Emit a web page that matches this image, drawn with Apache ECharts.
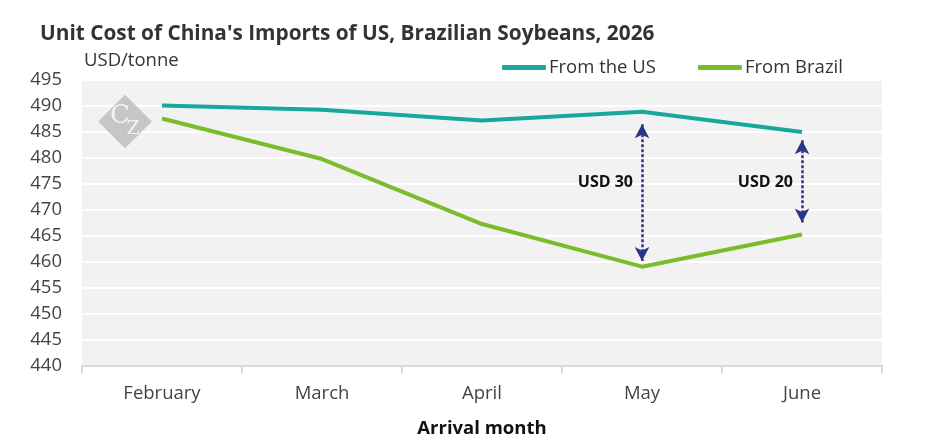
<!DOCTYPE html>
<html><head><meta charset="utf-8">
<script src="https://cdn.jsdelivr.net/npm/echarts@6/dist/echarts.min.js"></script>
<style>html,body{margin:0;padding:0;background:#fff}#c{width:945px;height:443px}</style>
</head><body><div id="c"></div>
<script>
var months = ['February','March','April','May','June'];
var fromUS = [490.1, 489.3, 487.2, 488.9, 485.0];
var fromBrazil = [487.6, 479.8, 467.3, 459.1, 465.3];
var yTicks = {min: 440, max: 495, interval: 5};
var gapArrows = [
  {month: 'May', top: 486.5, bottom: 460.2, label: 'USD 30'},
  {month: 'June', top: 483.4, bottom: 467.6, label: 'USD 20'}
];
var labelLevel = 475.3;

var font = '"Open Sans", "Noto Sans", sans-serif';
var chart = echarts.init(document.getElementById('c'));
chart.setOption({
  animation: false,
  textStyle: {fontFamily: font},
  title: {
    text: "Unit Cost of China's Imports of US, Brazilian Soybeans, 2026",
    left: 35, top: 19,
    textStyle: {fontFamily: font, fontSize: 20.8, fontWeight: 'bold', color: '#333'}
  },
  legend: {
    top: 53, left: 497,
    itemWidth: 44, itemHeight: 5, itemGap: 42,
    icon: 'roundRect',
    textStyle: {fontFamily: font, fontSize: 18.5, color: '#333', padding: [0,0,0,-2]},
    data: ['From the US', 'From Brazil']
  },
  grid: {left: 82, right: 63, top: 80, bottom: 76, show: true, backgroundColor: '#f2f2f2', borderWidth: 0},
  xAxis: {
    type: 'category', data: months, boundaryGap: true,
    name: 'Arrival month', nameLocation: 'middle', nameGap: 53,
    nameTextStyle: {fontFamily: font, fontSize: 18.5, fontWeight: 'bold', color: '#111'},
    axisLine: {lineStyle: {color: '#d9d9d9', width: 2}},
    axisTick: {show: true, length: 7, lineStyle: {color: '#d9d9d9', width: 2}},
    axisLabel: {fontFamily: font, fontSize: 18.5, color: '#444', margin: 18},
    splitLine: {show: false}
  },
  yAxis: {
    type: 'value', min: yTicks.min, max: yTicks.max, interval: yTicks.interval,
    axisLine: {show: false}, axisTick: {show: false},
    axisLabel: {fontFamily: font, fontSize: 18.5, color: '#444', margin: 20},
    splitLine: {lineStyle: {color: '#ffffff', width: 2}}
  },
  graphic: [
    {type: 'text', left: 84, top: 51, style: {text: 'USD/tonne', font: '18.5px ' + font, fill: '#333'}},
    {type: 'rect', shape: {x: -19, y: -19, width: 38, height: 38}, x: 125, y: 121.5, rotation: Math.PI/4,
     style: {fill: '#c6c6c6'}, z: 1},
    {type: 'text', x: 120, y: 116, style: {text: 'C', font: '26px "DejaVu Serif", serif', fill: '#f2f2f2', align: 'center', verticalAlign: 'middle'}, z: 2},
    {type: 'text', x: 133, y: 129, style: {text: 'Z', font: '19px "DejaVu Serif", serif', fill: '#f2f2f2', align: 'center', verticalAlign: 'middle'}, z: 2}
  ],
  series: [
    {
      name: 'From the US', type: 'line', data: fromUS, symbol: 'none',
      lineStyle: {color: '#17a89b', width: 4}, itemStyle: {color: '#17a89b'}, z: 3
    },
    {
      name: 'From Brazil', type: 'line', data: fromBrazil, symbol: 'none',
      lineStyle: {color: '#7cbb2a', width: 4}, itemStyle: {color: '#7cbb2a'}, z: 3,
      markLine: {
        silent: true, symbol: ['arrow', 'arrow'], symbolSize: [11, 14],
        lineStyle: {color: '#27358a', type: [3, 2], width: 2.5},
        label: {show: false},
        data: gapArrows.map(function (a) {
          return [{coord: [a.month, a.top]}, {coord: [a.month, a.bottom]}];
        })
      },
      markPoint: {
        silent: true, symbol: 'circle', symbolSize: 0,
        label: {show: true, position: 'left', distance: 9, fontFamily: font, fontSize: 16, fontWeight: 'bold', color: '#111',
          formatter: function (p) { return p.name; }},
        data: gapArrows.map(function (a) {
          return {name: a.label, coord: [a.month, labelLevel]};
        })
      }
    }
  ]
});
</script></body></html>
